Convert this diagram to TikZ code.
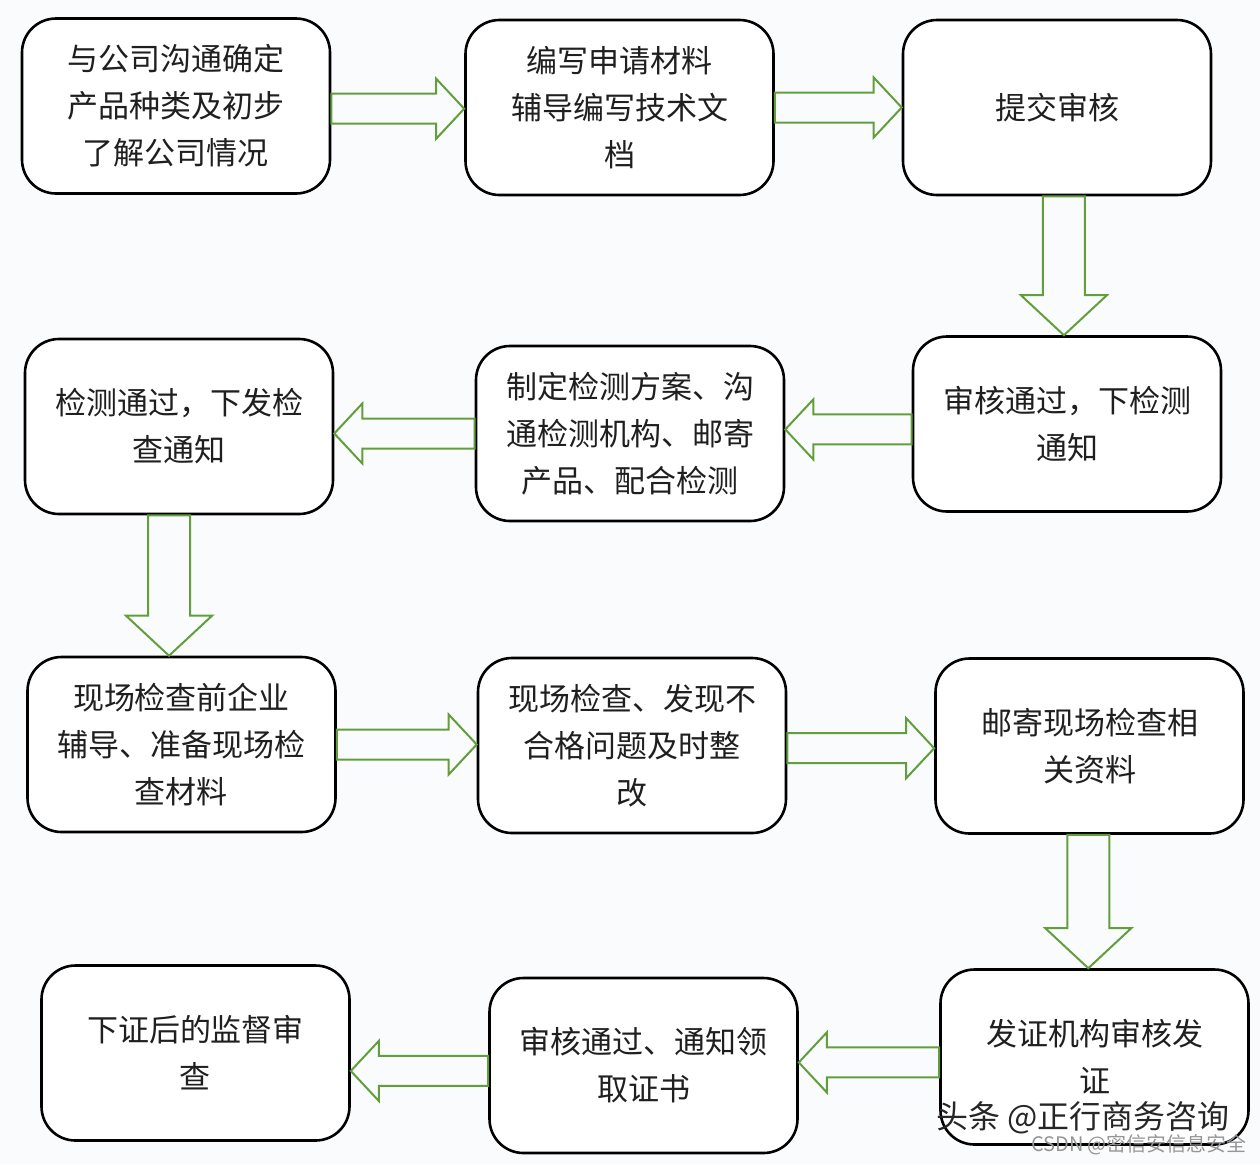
\documentclass[tikz,border=0pt]{standalone}
\usepackage{fontspec}
\setmainfont{Noto Sans CJK SC}
\usetikzlibrary{calc}
\definecolor{flowgreen}{RGB}{98,158,60}
\definecolor{pagebg}{RGB}{250,251,253}
\definecolor{marktext}{RGB}{150,150,150}

\tikzset{
    stagebox/.style={draw, line width=1.3pt, rounded corners=17pt, fill=white,
        minimum width=154pt, minimum height=87.5pt, align=center,
        font=\fontsize{15.5}{23.5}\selectfont, text=black!88},
    blockarr/.style={draw=flowgreen, line width=1pt, line join=miter}
}

% hollow block arrows: right, left and down
\newcommand{\rblock}[2]{%
    \draw[blockarr] ($(#1)+(0pt,7.5pt)$) -- ($(#2|-#1)+(-14pt,7.5pt)$) -- ($(#2|-#1)+(-14pt,15pt)$)
        -- (#2|-#1) -- ($(#2|-#1)+(-14pt,-15pt)$) -- ($(#2|-#1)+(-14pt,-7.5pt)$)
        -- ($(#1)+(0pt,-7.5pt)$) -- cycle;}
\newcommand{\lblock}[2]{%
    \draw[blockarr] ($(#1)+(0pt,7.5pt)$) -- ($(#2|-#1)+(14pt,7.5pt)$) -- ($(#2|-#1)+(14pt,15pt)$)
        -- (#2|-#1) -- ($(#2|-#1)+(14pt,-15pt)$) -- ($(#2|-#1)+(14pt,-7.5pt)$)
        -- ($(#1)+(0pt,-7.5pt)$) -- cycle;}
\newcommand{\dblock}[2]{%
    \draw[blockarr] ($(#2|-#1)+(-10.5pt,0pt)$) -- ($(#2)+(-10.5pt,20pt)$) -- ($(#2)+(-21.5pt,20pt)$)
        -- (#2) -- ($(#2)+(21.5pt,20pt)$) -- ($(#2)+(10.5pt,20pt)$)
        -- ($(#2|-#1)+(10.5pt,0pt)$) -- cycle;}

\begin{document}
\begin{tikzpicture}[x=0.5pt, y=-0.5pt]
    \fill[pagebg] (0,0) rectangle (1260,1164);
    \useasboundingbox (0,0) rectangle (1260,1164);

    % First row
    \node[stagebox] (contact) at (176,106) {与公司沟通确定\\产品种类及初步\\了解公司情况};
    \node[stagebox] (writing) at (619.5,107.5) {编写申请材料\\辅导编写技术文\\档};
    \node[stagebox] (submit) at (1057,107.5) {提交审核};

    % Second row
    \node[stagebox] (passed) at (1067,424) {审核通过，下检测\\通知};
    \node[stagebox] (testplan) at (630,433.5) {制定检测方案、沟\\通检测机构、邮寄\\产品、配合检测};
    \node[stagebox] (testok) at (179,426.5) {检测通过，下发检\\查通知};

    % Third row
    \node[stagebox] (prepare) at (181.5,744.5) {现场检查前企业\\辅导、准备现场检\\查材料};
    \node[stagebox] (inspect) at (632,745.5) {现场检查、发现不\\合格问题及时整\\改};
    \node[stagebox] (mailing) at (1089.5,746) {邮寄现场检查相\\关资料};

    % Fourth row
    \node[stagebox] (issue) at (1094.5,1057) {发证机构审核发\\证};
    \node[stagebox] (collect) at (643.5,1065.5) {审核通过、通知领\\取证书};
    \node[stagebox] (supervise) at (195.5,1053) {下证后的监督审\\查};

    % Flow
    \rblock{contact.359}{writing.west}
    \rblock{writing.east}{submit.west}
    \dblock{submit.south}{passed.92}
    \lblock{passed.182}{testplan.east}
    \lblock{testplan.west}{testok.east}
    \dblock{testok.south}{prepare.98}
    \rblock{prepare.east}{inspect.west}
    \rblock{inspect.359}{mailing.west}
    \dblock{mailing.south}{issue.94}
    \lblock{issue.182}{collect.east}
    \lblock{collect.182}{supervise.east}

    % Watermarks
    \node[font=\fontsize{16}{18}\selectfont, text=black!85] (toutiao) at (1083,1118) {头条 @正行商务咨询};
    \node[font=\fontsize{10}{12}\selectfont, text=marktext] (csdn) at (1139,1145) {CSDN @密信安信息安全};
\end{tikzpicture}
\end{document}
